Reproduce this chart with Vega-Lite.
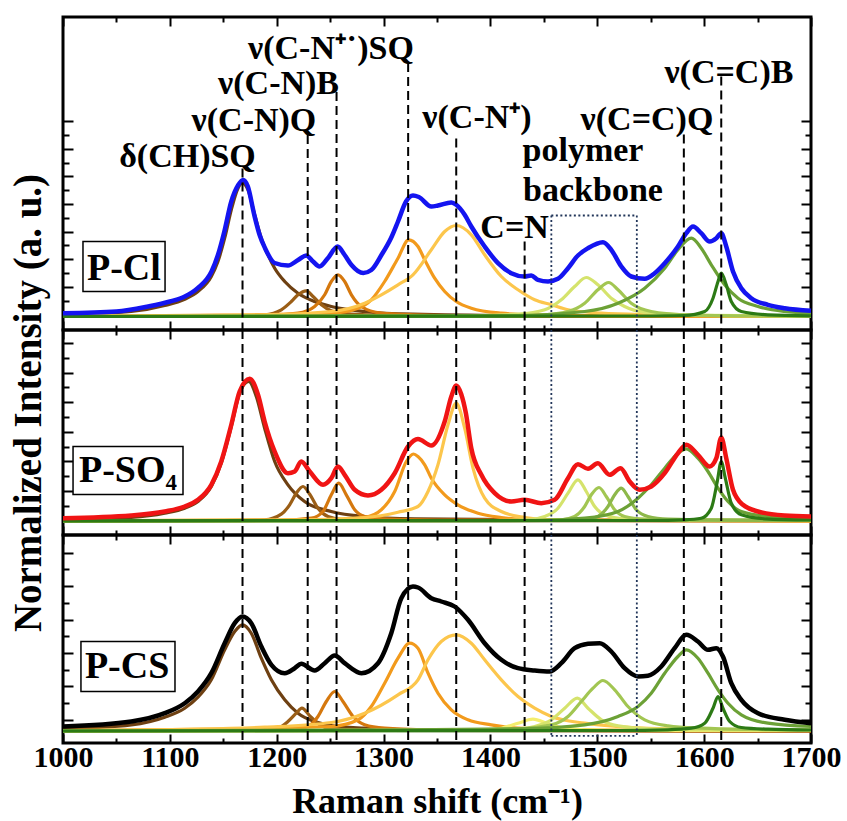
{
"$schema":"https://vega.github.io/schema/vega-lite/v6.json",
"background":"white",
"padding":{"left":7,"top":14,"right":2,"bottom":0},
"spacing":0,
"bounds":"flush",
"config":{"font":"Liberation Serif","view":{"stroke":"black","strokeWidth":3},"axis":{"domain":false,"grid":false,"labels":false,"tickColor":"black","tickWidth":2,"labelFont":"Liberation Serif","titleFont":"Liberation Serif"},"text":{"font":"Liberation Serif","fontWeight":"bold","color":"black"}},
"datasets":{
"c":[
{"p":1,"s":"dCH","x":1000,"y":15.2},{"p":1,"s":"dCH","x":1063.9,"y":18.5},{"p":1,"s":"dCH","x":1095.2,"y":24.5},{"p":1,"s":"dCH","x":1113.9,"y":30.8},{"p":1,"s":"dCH","x":1126.3,"y":38.5},{"p":1,"s":"dCH","x":1138.8,"y":53.5},{"p":1,"s":"dCH","x":1145,"y":68.5},{"p":1,"s":"dCH","x":1151.3,"y":91.8},{"p":1,"s":"dCH","x":1157.5,"y":120.2},{"p":1,"s":"dCH","x":1163.8,"y":141.8},{"p":1,"s":"dCH","x":1167.8,"y":146.8},{"p":1,"s":"dCH","x":1173.1,"y":140.2},{"p":1,"s":"dCH","x":1179.4,"y":115.2},{"p":1,"s":"dCH","x":1185.6,"y":91.8},{"p":1,"s":"dCH","x":1191.8,"y":75.2},{"p":1,"s":"dCH","x":1198.1,"y":61.8},{"p":1,"s":"dCH","x":1207.5,"y":48.5},{"p":1,"s":"dCH","x":1219.9,"y":36.8},{"p":1,"s":"dCH","x":1235.5,"y":28.5},{"p":1,"s":"dCH","x":1251.1,"y":23.5},{"p":1,"s":"dCH","x":1282.3,"y":18.5},{"p":1,"s":"dCH","x":1327.5,"y":15.8},{"p":1,"s":"dCH","x":1450,"y":14.2},{"p":1,"s":"dCH","x":1700,"y":13.6},
{"p":1,"s":"CNQ","x":1000,"y":13.5},{"p":1,"s":"CNQ","x":1150,"y":13.8},{"p":1,"s":"CNQ","x":1188.7,"y":15.2},{"p":1,"s":"CNQ","x":1204.3,"y":20.2},{"p":1,"s":"CNQ","x":1213.7,"y":28.5},{"p":1,"s":"CNQ","x":1219.9,"y":35.2},{"p":1,"s":"CNQ","x":1227.7,"y":39.2},{"p":1,"s":"CNQ","x":1234,"y":33.5},{"p":1,"s":"CNQ","x":1241.8,"y":25.2},{"p":1,"s":"CNQ","x":1251.1,"y":19.2},{"p":1,"s":"CNQ","x":1269.9,"y":15.8},{"p":1,"s":"CNQ","x":1320,"y":14},{"p":1,"s":"CNQ","x":1700,"y":13.5},
{"p":1,"s":"CNB","x":1000,"y":13.5},{"p":1,"s":"CNB","x":1180,"y":13.8},{"p":1,"s":"CNB","x":1219.9,"y":16.8},{"p":1,"s":"CNB","x":1235.5,"y":23.5},{"p":1,"s":"CNB","x":1244.9,"y":35.2},{"p":1,"s":"CNB","x":1251.1,"y":48.5},{"p":1,"s":"CNB","x":1257.3,"y":55.2},{"p":1,"s":"CNB","x":1263.6,"y":48.5},{"p":1,"s":"CNB","x":1269.9,"y":35.2},{"p":1,"s":"CNB","x":1279.2,"y":23.5},{"p":1,"s":"CNB","x":1297.9,"y":16.8},{"p":1,"s":"CNB","x":1327.5,"y":15.2},{"p":1,"s":"CNB","x":1400,"y":14},{"p":1,"s":"CNB","x":1700,"y":13.5},
{"p":1,"s":"CNs","x":1000,"y":13.8},{"p":1,"s":"CNs","x":1150,"y":14.8},{"p":1,"s":"CNs","x":1251.1,"y":16.8},{"p":1,"s":"CNs","x":1276.1,"y":21.8},{"p":1,"s":"CNs","x":1288.5,"y":30.2},{"p":1,"s":"CNs","x":1301,"y":48.5},{"p":1,"s":"CNs","x":1313.5,"y":71.8},{"p":1,"s":"CNs","x":1323.5,"y":90.2},{"p":1,"s":"CNs","x":1332.2,"y":83.5},{"p":1,"s":"CNs","x":1338.5,"y":70.2},{"p":1,"s":"CNs","x":1347.8,"y":51.8},{"p":1,"s":"CNs","x":1357.2,"y":38.5},{"p":1,"s":"CNs","x":1368,"y":28.5},{"p":1,"s":"CNs","x":1382.1,"y":21.8},{"p":1,"s":"CNs","x":1410.2,"y":16.8},{"p":1,"s":"CNs","x":1441.4,"y":15.2},{"p":1,"s":"CNs","x":1550,"y":14},{"p":1,"s":"CNs","x":1700,"y":13.6},
{"p":1,"s":"CNp","x":1000,"y":13.8},{"p":1,"s":"CNp","x":1100,"y":14.2},{"p":1,"s":"CNp","x":1188.7,"y":15.2},{"p":1,"s":"CNp","x":1251.1,"y":18.5},{"p":1,"s":"CNp","x":1282.3,"y":26.8},{"p":1,"s":"CNp","x":1297.9,"y":35.2},{"p":1,"s":"CNp","x":1313.5,"y":45.2},{"p":1,"s":"CNp","x":1327.5,"y":55.2},{"p":1,"s":"CNp","x":1344.7,"y":80.2},{"p":1,"s":"CNp","x":1357.2,"y":98.5},{"p":1,"s":"CNp","x":1368,"y":104.5},{"p":1,"s":"CNp","x":1382.1,"y":95.2},{"p":1,"s":"CNp","x":1394.6,"y":75.2},{"p":1,"s":"CNp","x":1410.2,"y":53.5},{"p":1,"s":"CNp","x":1425.8,"y":40.2},{"p":1,"s":"CNp","x":1441.4,"y":30.2},{"p":1,"s":"CNp","x":1457,"y":25.2},{"p":1,"s":"CNp","x":1472.6,"y":20.2},{"p":1,"s":"CNp","x":1503.8,"y":16.8},{"p":1,"s":"CNp","x":1550.5,"y":15.2},{"p":1,"s":"CNp","x":1620,"y":14.2},{"p":1,"s":"CNp","x":1700,"y":13.8},
{"p":1,"s":"pa","x":1000,"y":13.5},{"p":1,"s":"pa","x":1380,"y":14.2},{"p":1,"s":"pa","x":1425.8,"y":15.8},{"p":1,"s":"pa","x":1450.8,"y":20.2},{"p":1,"s":"pa","x":1466.3,"y":30.2},{"p":1,"s":"pa","x":1478.8,"y":43.5},{"p":1,"s":"pa","x":1489.7,"y":52.5},{"p":1,"s":"pa","x":1500.6,"y":45.2},{"p":1,"s":"pa","x":1513.1,"y":31.8},{"p":1,"s":"pa","x":1525.6,"y":23.5},{"p":1,"s":"pa","x":1544.4,"y":17.8},{"p":1,"s":"pa","x":1581.8,"y":15.2},{"p":1,"s":"pa","x":1700,"y":14},
{"p":1,"s":"pb","x":1000,"y":13.5},{"p":1,"s":"pb","x":1420,"y":14},{"p":1,"s":"pb","x":1450.8,"y":15.2},{"p":1,"s":"pb","x":1472.6,"y":18.5},{"p":1,"s":"pb","x":1488.2,"y":26.8},{"p":1,"s":"pb","x":1500.6,"y":40.2},{"p":1,"s":"pb","x":1510.6,"y":47.5},{"p":1,"s":"pb","x":1519.4,"y":40.2},{"p":1,"s":"pb","x":1531.8,"y":26.8},{"p":1,"s":"pb","x":1550.5,"y":18.5},{"p":1,"s":"pb","x":1581.8,"y":15.2},{"p":1,"s":"pb","x":1650,"y":14},{"p":1,"s":"pb","x":1700,"y":13.8},
{"p":1,"s":"CCQ","x":1000,"y":13.5},{"p":1,"s":"CCQ","x":1300,"y":13.8},{"p":1,"s":"CCQ","x":1425.8,"y":14.5},{"p":1,"s":"CCQ","x":1488.2,"y":18.5},{"p":1,"s":"CCQ","x":1519.4,"y":26.8},{"p":1,"s":"CCQ","x":1544.4,"y":41.8},{"p":1,"s":"CCQ","x":1563.1,"y":61.8},{"p":1,"s":"CCQ","x":1575.5,"y":80.2},{"p":1,"s":"CCQ","x":1588,"y":91.8},{"p":1,"s":"CCQ","x":1597.3,"y":81.8},{"p":1,"s":"CCQ","x":1606.7,"y":65.2},{"p":1,"s":"CCQ","x":1619.2,"y":45.2},{"p":1,"s":"CCQ","x":1631.7,"y":31.8},{"p":1,"s":"CCQ","x":1650.4,"y":23.5},{"p":1,"s":"CCQ","x":1675.4,"y":18.5},{"p":1,"s":"CCQ","x":1700,"y":16.8},
{"p":1,"s":"CCB","x":1000,"y":13.5},{"p":1,"s":"CCB","x":1540,"y":14},{"p":1,"s":"CCB","x":1581.8,"y":14.5},{"p":1,"s":"CCB","x":1600.5,"y":18.5},{"p":1,"s":"CCB","x":1608.3,"y":31.8},{"p":1,"s":"CCB","x":1613,"y":48.5},{"p":1,"s":"CCB","x":1616,"y":56.8},{"p":1,"s":"CCB","x":1620.7,"y":45.2},{"p":1,"s":"CCB","x":1625.4,"y":28.5},{"p":1,"s":"CCB","x":1634.8,"y":18.5},{"p":1,"s":"CCB","x":1659.7,"y":15.2},{"p":1,"s":"CCB","x":1700,"y":14.2},
{"p":1,"s":"fit","x":1000,"y":16.8},{"p":1,"s":"fit","x":1050,"y":18.5},{"p":1,"s":"fit","x":1079.5,"y":23.5},{"p":1,"s":"fit","x":1100,"y":28.5},{"p":1,"s":"fit","x":1114,"y":33.5},{"p":1,"s":"fit","x":1126,"y":41.8},{"p":1,"s":"fit","x":1139,"y":58.5},{"p":1,"s":"fit","x":1145,"y":75},{"p":1,"s":"fit","x":1151,"y":98.5},{"p":1,"s":"fit","x":1157.5,"y":128.5},{"p":1,"s":"fit","x":1164,"y":145},{"p":1,"s":"fit","x":1168.5,"y":150},{"p":1,"s":"fit","x":1173,"y":143.5},{"p":1,"s":"fit","x":1179,"y":115},{"p":1,"s":"fit","x":1184,"y":95},{"p":1,"s":"fit","x":1189,"y":82},{"p":1,"s":"fit","x":1198,"y":67},{"p":1,"s":"fit","x":1210.5,"y":64.5},{"p":1,"s":"fit","x":1220,"y":70},{"p":1,"s":"fit","x":1227.7,"y":74.5},{"p":1,"s":"fit","x":1234,"y":68.5},{"p":1,"s":"fit","x":1240,"y":63.5},{"p":1,"s":"fit","x":1248,"y":72},{"p":1,"s":"fit","x":1257,"y":83.5},{"p":1,"s":"fit","x":1263.6,"y":75},{"p":1,"s":"fit","x":1270,"y":65},{"p":1,"s":"fit","x":1281,"y":57},{"p":1,"s":"fit","x":1288.5,"y":60},{"p":1,"s":"fit","x":1298,"y":75},{"p":1,"s":"fit","x":1307,"y":92},{"p":1,"s":"fit","x":1313.5,"y":108.5},{"p":1,"s":"fit","x":1321,"y":128.5},{"p":1,"s":"fit","x":1327.5,"y":134.5},{"p":1,"s":"fit","x":1333,"y":133},{"p":1,"s":"fit","x":1344.7,"y":123.5},{"p":1,"s":"fit","x":1350.9,"y":124.5},{"p":1,"s":"fit","x":1363.4,"y":127.5},{"p":1,"s":"fit","x":1368,"y":125.2},{"p":1,"s":"fit","x":1375.9,"y":115.2},{"p":1,"s":"fit","x":1382.1,"y":103.5},{"p":1,"s":"fit","x":1394.6,"y":83.5},{"p":1,"s":"fit","x":1407.1,"y":66.8},{"p":1,"s":"fit","x":1419.5,"y":56.8},{"p":1,"s":"fit","x":1432,"y":53.5},{"p":1,"s":"fit","x":1438.2,"y":54.5},{"p":1,"s":"fit","x":1444.5,"y":50.2},{"p":1,"s":"fit","x":1453.9,"y":48.5},{"p":1,"s":"fit","x":1463.2,"y":51.2},{"p":1,"s":"fit","x":1472.6,"y":61.8},{"p":1,"s":"fit","x":1481.9,"y":74.5},{"p":1,"s":"fit","x":1491.3,"y":81.8},{"p":1,"s":"fit","x":1505.3,"y":87.8},{"p":1,"s":"fit","x":1513.1,"y":80.2},{"p":1,"s":"fit","x":1522.5,"y":63.5},{"p":1,"s":"fit","x":1531.8,"y":53.5},{"p":1,"s":"fit","x":1544.4,"y":51.2},{"p":1,"s":"fit","x":1553.7,"y":56.8},{"p":1,"s":"fit","x":1563.1,"y":66.8},{"p":1,"s":"fit","x":1575.5,"y":83.5},{"p":1,"s":"fit","x":1583.3,"y":96.8},{"p":1,"s":"fit","x":1589.6,"y":103.5},{"p":1,"s":"fit","x":1597.3,"y":96.8},{"p":1,"s":"fit","x":1605.2,"y":88.5},{"p":1,"s":"fit","x":1611.4,"y":91.8},{"p":1,"s":"fit","x":1616,"y":96.8},{"p":1,"s":"fit","x":1620.7,"y":83.5},{"p":1,"s":"fit","x":1627,"y":58.5},{"p":1,"s":"fit","x":1634.8,"y":41.8},{"p":1,"s":"fit","x":1644.1,"y":31.8},{"p":1,"s":"fit","x":1659.7,"y":25.2},{"p":1,"s":"fit","x":1675.4,"y":21.8},{"p":1,"s":"fit","x":1700,"y":19.2},

{"p":2,"s":"dCH","x":1000,"y":15.2},{"p":2,"s":"dCH","x":1063.9,"y":17.5},{"p":2,"s":"dCH","x":1095.2,"y":21.8},{"p":2,"s":"dCH","x":1113.9,"y":26.8},{"p":2,"s":"dCH","x":1126.3,"y":33.5},{"p":2,"s":"dCH","x":1138.8,"y":48.5},{"p":2,"s":"dCH","x":1148.1,"y":71.8},{"p":2,"s":"dCH","x":1157.5,"y":108.5},{"p":2,"s":"dCH","x":1165.3,"y":141.8},{"p":2,"s":"dCH","x":1173.8,"y":153.5},{"p":2,"s":"dCH","x":1180.9,"y":138.5},{"p":2,"s":"dCH","x":1188.7,"y":106.8},{"p":2,"s":"dCH","x":1198.1,"y":73.5},{"p":2,"s":"dCH","x":1210.5,"y":50.2},{"p":2,"s":"dCH","x":1226.1,"y":33.5},{"p":2,"s":"dCH","x":1251.1,"y":23.5},{"p":2,"s":"dCH","x":1282.3,"y":18.5},{"p":2,"s":"dCH","x":1329.1,"y":16.2},{"p":2,"s":"dCH","x":1450,"y":15},{"p":2,"s":"dCH","x":1700,"y":14.5},
{"p":2,"s":"CNQ","x":1000,"y":14.2},{"p":2,"s":"CNQ","x":1150,"y":14.5},{"p":2,"s":"CNQ","x":1188.7,"y":15.2},{"p":2,"s":"CNQ","x":1204.3,"y":20.8},{"p":2,"s":"CNQ","x":1212.1,"y":30.2},{"p":2,"s":"CNQ","x":1218.3,"y":41.8},{"p":2,"s":"CNQ","x":1224.6,"y":48.5},{"p":2,"s":"CNQ","x":1230.9,"y":40.8},{"p":2,"s":"CNQ","x":1238.6,"y":26.8},{"p":2,"s":"CNQ","x":1248,"y":18.5},{"p":2,"s":"CNQ","x":1263.6,"y":15.2},{"p":2,"s":"CNQ","x":1320,"y":14.4},{"p":2,"s":"CNQ","x":1700,"y":14.2},
{"p":2,"s":"CNB","x":1000,"y":14.2},{"p":2,"s":"CNB","x":1200,"y":14.5},{"p":2,"s":"CNB","x":1232.4,"y":16.8},{"p":2,"s":"CNB","x":1243.3,"y":23.5},{"p":2,"s":"CNB","x":1251.1,"y":40.2},{"p":2,"s":"CNB","x":1258,"y":51.8},{"p":2,"s":"CNB","x":1265.1,"y":40.2},{"p":2,"s":"CNB","x":1273,"y":25.2},{"p":2,"s":"CNB","x":1282.3,"y":18.5},{"p":2,"s":"CNB","x":1301,"y":16.2},{"p":2,"s":"CNB","x":1350,"y":15},{"p":2,"s":"CNB","x":1700,"y":14.2},
{"p":2,"s":"CNs","x":1000,"y":14.2},{"p":2,"s":"CNs","x":1200,"y":15},{"p":2,"s":"CNs","x":1251.1,"y":15.2},{"p":2,"s":"CNs","x":1282.3,"y":17.5},{"p":2,"s":"CNs","x":1297.9,"y":25.2},{"p":2,"s":"CNs","x":1310.4,"y":43.5},{"p":2,"s":"CNs","x":1321.3,"y":73.5},{"p":2,"s":"CNs","x":1328,"y":81},{"p":2,"s":"CNs","x":1332.2,"y":78.5},{"p":2,"s":"CNs","x":1338.5,"y":70.2},{"p":2,"s":"CNs","x":1344.7,"y":56.8},{"p":2,"s":"CNs","x":1357.2,"y":40.2},{"p":2,"s":"CNs","x":1369.6,"y":30.2},{"p":2,"s":"CNs","x":1388.4,"y":21.8},{"p":2,"s":"CNs","x":1410.2,"y":17.5},{"p":2,"s":"CNs","x":1441.4,"y":15.2},{"p":2,"s":"CNs","x":1550,"y":14.5},{"p":2,"s":"CNs","x":1700,"y":14.2},
{"p":2,"s":"CNp","x":1000,"y":14.2},{"p":2,"s":"CNp","x":1150,"y":14.8},{"p":2,"s":"CNp","x":1219.9,"y":15.2},{"p":2,"s":"CNp","x":1282.3,"y":17.5},{"p":2,"s":"CNp","x":1313.5,"y":22.8},{"p":2,"s":"CNp","x":1332.2,"y":28.5},{"p":2,"s":"CNp","x":1341.6,"y":43.5},{"p":2,"s":"CNp","x":1350.9,"y":70.2},{"p":2,"s":"CNp","x":1360.3,"y":110.2},{"p":2,"s":"CNp","x":1368,"y":131.8},{"p":2,"s":"CNp","x":1375.9,"y":106.8},{"p":2,"s":"CNp","x":1383.7,"y":66.8},{"p":2,"s":"CNp","x":1394.6,"y":36.8},{"p":2,"s":"CNp","x":1410.2,"y":23.5},{"p":2,"s":"CNp","x":1432,"y":17.5},{"p":2,"s":"CNp","x":1457,"y":15.2},{"p":2,"s":"CNp","x":1550,"y":14.5},{"p":2,"s":"CNp","x":1700,"y":14.2},
{"p":2,"s":"pa","x":1000,"y":14.2},{"p":2,"s":"pa","x":1400,"y":14.5},{"p":2,"s":"pa","x":1435.2,"y":15.2},{"p":2,"s":"pa","x":1450.8,"y":18.5},{"p":2,"s":"pa","x":1463.2,"y":26.8},{"p":2,"s":"pa","x":1472.6,"y":41.8},{"p":2,"s":"pa","x":1481.9,"y":55.2},{"p":2,"s":"pa","x":1489.7,"y":43.5},{"p":2,"s":"pa","x":1497.6,"y":28.5},{"p":2,"s":"pa","x":1506.9,"y":20.2},{"p":2,"s":"pa","x":1525.6,"y":16.2},{"p":2,"s":"pa","x":1600,"y":14.8},{"p":2,"s":"pa","x":1700,"y":14.5},
{"p":2,"s":"pb","x":1000,"y":14.2},{"p":2,"s":"pb","x":1430,"y":14.5},{"p":2,"s":"pb","x":1466.3,"y":15.2},{"p":2,"s":"pb","x":1478.8,"y":18.5},{"p":2,"s":"pb","x":1488.2,"y":28.5},{"p":2,"s":"pb","x":1494.4,"y":40.2},{"p":2,"s":"pb","x":1501.6,"y":47.5},{"p":2,"s":"pb","x":1508.4,"y":38.5},{"p":2,"s":"pb","x":1516.3,"y":25.2},{"p":2,"s":"pb","x":1525.6,"y":18.5},{"p":2,"s":"pb","x":1544.4,"y":15.8},{"p":2,"s":"pb","x":1600,"y":14.8},{"p":2,"s":"pb","x":1700,"y":14.5},
{"p":2,"s":"pc","x":1000,"y":14.2},{"p":2,"s":"pc","x":1450,"y":14.5},{"p":2,"s":"pc","x":1488.2,"y":15.2},{"p":2,"s":"pc","x":1500.6,"y":18.5},{"p":2,"s":"pc","x":1510,"y":28.5},{"p":2,"s":"pc","x":1516.3,"y":40.2},{"p":2,"s":"pc","x":1522.5,"y":46.8},{"p":2,"s":"pc","x":1528.7,"y":38.5},{"p":2,"s":"pc","x":1536.5,"y":25.2},{"p":2,"s":"pc","x":1547.4,"y":18.5},{"p":2,"s":"pc","x":1566.2,"y":15.8},{"p":2,"s":"pc","x":1620,"y":14.8},{"p":2,"s":"pc","x":1700,"y":14.5},
{"p":2,"s":"CCQ","x":1000,"y":14.2},{"p":2,"s":"CCQ","x":1300,"y":14.4},{"p":2,"s":"CCQ","x":1441.4,"y":14.5},{"p":2,"s":"CCQ","x":1488.2,"y":16.8},{"p":2,"s":"CCQ","x":1519.4,"y":23.5},{"p":2,"s":"CCQ","x":1538.1,"y":36.8},{"p":2,"s":"CCQ","x":1550.5,"y":50.2},{"p":2,"s":"CCQ","x":1563.1,"y":66.8},{"p":2,"s":"CCQ","x":1575.5,"y":81.8},{"p":2,"s":"CCQ","x":1583.3,"y":86.2},{"p":2,"s":"CCQ","x":1594.2,"y":76.8},{"p":2,"s":"CCQ","x":1603.6,"y":63.5},{"p":2,"s":"CCQ","x":1613,"y":46.8},{"p":2,"s":"CCQ","x":1622.3,"y":33.5},{"p":2,"s":"CCQ","x":1634.8,"y":23.5},{"p":2,"s":"CCQ","x":1659.7,"y":18.5},{"p":2,"s":"CCQ","x":1700,"y":16.2},
{"p":2,"s":"CCB","x":1000,"y":14.2},{"p":2,"s":"CCB","x":1550,"y":14.5},{"p":2,"s":"CCB","x":1581.8,"y":15.2},{"p":2,"s":"CCB","x":1597.3,"y":16.8},{"p":2,"s":"CCB","x":1606.7,"y":26.8},{"p":2,"s":"CCB","x":1612.3,"y":53.5},{"p":2,"s":"CCB","x":1616,"y":73.5},{"p":2,"s":"CCB","x":1619.8,"y":56.8},{"p":2,"s":"CCB","x":1625.4,"y":31.8},{"p":2,"s":"CCB","x":1634.8,"y":20.2},{"p":2,"s":"CCB","x":1656.6,"y":16.2},{"p":2,"s":"CCB","x":1700,"y":15},
{"p":2,"s":"fit","x":1000,"y":16.8},{"p":2,"s":"fit","x":1063.9,"y":19.5},{"p":2,"s":"fit","x":1095.2,"y":23.5},{"p":2,"s":"fit","x":1113.9,"y":28.5},{"p":2,"s":"fit","x":1126.3,"y":35.2},{"p":2,"s":"fit","x":1138.8,"y":50.2},{"p":2,"s":"fit","x":1148.1,"y":73.5},{"p":2,"s":"fit","x":1157.5,"y":110.2},{"p":2,"s":"fit","x":1165.3,"y":143.5},{"p":2,"s":"fit","x":1174.7,"y":156.2},{"p":2,"s":"fit","x":1182.5,"y":140.2},{"p":2,"s":"fit","x":1188.7,"y":113.5},{"p":2,"s":"fit","x":1198.1,"y":83.5},{"p":2,"s":"fit","x":1210.5,"y":61.8},{"p":2,"s":"fit","x":1216.8,"y":63.5},{"p":2,"s":"fit","x":1223,"y":73.5},{"p":2,"s":"fit","x":1230.9,"y":63.5},{"p":2,"s":"fit","x":1243.3,"y":50.2},{"p":2,"s":"fit","x":1251.1,"y":56.8},{"p":2,"s":"fit","x":1257.3,"y":68.5},{"p":2,"s":"fit","x":1263.6,"y":60.2},{"p":2,"s":"fit","x":1273,"y":45.2},{"p":2,"s":"fit","x":1285.4,"y":39.5},{"p":2,"s":"fit","x":1297.9,"y":45.2},{"p":2,"s":"fit","x":1310.4,"y":61.8},{"p":2,"s":"fit","x":1322.9,"y":88.5},{"p":2,"s":"fit","x":1332.2,"y":96},{"p":2,"s":"fit","x":1344.7,"y":89.5},{"p":2,"s":"fit","x":1357.2,"y":113.5},{"p":2,"s":"fit","x":1363.4,"y":138.5},{"p":2,"s":"fit","x":1368,"y":149.5},{"p":2,"s":"fit","x":1372.7,"y":140.8},{"p":2,"s":"fit","x":1377,"y":122},{"p":2,"s":"fit","x":1382.1,"y":86.8},{"p":2,"s":"fit","x":1391.5,"y":60.2},{"p":2,"s":"fit","x":1404,"y":41.8},{"p":2,"s":"fit","x":1419.5,"y":33.5},{"p":2,"s":"fit","x":1432,"y":35.2},{"p":2,"s":"fit","x":1447.6,"y":31.8},{"p":2,"s":"fit","x":1460.1,"y":35.2},{"p":2,"s":"fit","x":1472.6,"y":56.8},{"p":2,"s":"fit","x":1481.9,"y":70.8},{"p":2,"s":"fit","x":1491.3,"y":66.2},{"p":2,"s":"fit","x":1500.6,"y":71.8},{"p":2,"s":"fit","x":1511.5,"y":60.2},{"p":2,"s":"fit","x":1521.8,"y":66.8},{"p":2,"s":"fit","x":1530.3,"y":53.5},{"p":2,"s":"fit","x":1539.7,"y":45.2},{"p":2,"s":"fit","x":1550.5,"y":48.5},{"p":2,"s":"fit","x":1563.1,"y":61.8},{"p":2,"s":"fit","x":1575.5,"y":81.8},{"p":2,"s":"fit","x":1583.3,"y":90.2},{"p":2,"s":"fit","x":1594.2,"y":80.2},{"p":2,"s":"fit","x":1605.2,"y":68.5},{"p":2,"s":"fit","x":1611.4,"y":76.8},{"p":2,"s":"fit","x":1616,"y":97.5},{"p":2,"s":"fit","x":1620.7,"y":76.8},{"p":2,"s":"fit","x":1627,"y":45.2},{"p":2,"s":"fit","x":1636.3,"y":30.2},{"p":2,"s":"fit","x":1650.4,"y":23.5},{"p":2,"s":"fit","x":1675.4,"y":19.5},{"p":2,"s":"fit","x":1700,"y":18.5},

{"p":3,"s":"dCH","x":1000,"y":14.2},{"p":3,"s":"dCH","x":1063.9,"y":18.2},{"p":3,"s":"dCH","x":1095.2,"y":25.8},{"p":3,"s":"dCH","x":1113.9,"y":34.8},{"p":3,"s":"dCH","x":1126.3,"y":45.8},{"p":3,"s":"dCH","x":1138.8,"y":63.2},{"p":3,"s":"dCH","x":1151.3,"y":93.2},{"p":3,"s":"dCH","x":1160.7,"y":111.5},{"p":3,"s":"dCH","x":1167.8,"y":118.2},{"p":3,"s":"dCH","x":1176.2,"y":109.8},{"p":3,"s":"dCH","x":1185.6,"y":84.8},{"p":3,"s":"dCH","x":1195,"y":63.2},{"p":3,"s":"dCH","x":1207.5,"y":43.2},{"p":3,"s":"dCH","x":1219.9,"y":29.8},{"p":3,"s":"dCH","x":1235.5,"y":21.5},{"p":3,"s":"dCH","x":1251.1,"y":17.5},{"p":3,"s":"dCH","x":1282.3,"y":14.8},{"p":3,"s":"dCH","x":1329.1,"y":13.2},{"p":3,"s":"dCH","x":1450,"y":12.5},{"p":3,"s":"dCH","x":1700,"y":12},
{"p":3,"s":"CNQ","x":1000,"y":12},{"p":3,"s":"CNQ","x":1150,"y":12.5},{"p":3,"s":"CNQ","x":1188.7,"y":13.2},{"p":3,"s":"CNQ","x":1201.2,"y":14.8},{"p":3,"s":"CNQ","x":1210.5,"y":21.5},{"p":3,"s":"CNQ","x":1218.3,"y":29.8},{"p":3,"s":"CNQ","x":1223.6,"y":34.8},{"p":3,"s":"CNQ","x":1230.9,"y":27.2},{"p":3,"s":"CNQ","x":1240.2,"y":18.2},{"p":3,"s":"CNQ","x":1251.1,"y":14.2},{"p":3,"s":"CNQ","x":1300,"y":12.5},{"p":3,"s":"CNQ","x":1700,"y":12},
{"p":3,"s":"CNB","x":1000,"y":12},{"p":3,"s":"CNB","x":1180,"y":12.8},{"p":3,"s":"CNB","x":1219.9,"y":14.2},{"p":3,"s":"CNB","x":1229.3,"y":16.5},{"p":3,"s":"CNB","x":1238.6,"y":26.5},{"p":3,"s":"CNB","x":1246.4,"y":41.5},{"p":3,"s":"CNB","x":1254.3,"y":51.5},{"p":3,"s":"CNB","x":1262,"y":41.5},{"p":3,"s":"CNB","x":1271.4,"y":26.5},{"p":3,"s":"CNB","x":1282.3,"y":18.2},{"p":3,"s":"CNB","x":1301,"y":14.8},{"p":3,"s":"CNB","x":1350,"y":13},{"p":3,"s":"CNB","x":1700,"y":12},
{"p":3,"s":"CNs","x":1000,"y":12.5},{"p":3,"s":"CNs","x":1150,"y":14},{"p":3,"s":"CNs","x":1251.1,"y":16.5},{"p":3,"s":"CNs","x":1276.1,"y":23.2},{"p":3,"s":"CNs","x":1288.5,"y":36.5},{"p":3,"s":"CNs","x":1301,"y":59.8},{"p":3,"s":"CNs","x":1313.5,"y":84.8},{"p":3,"s":"CNs","x":1324.4,"y":99.8},{"p":3,"s":"CNs","x":1332.2,"y":94.8},{"p":3,"s":"CNs","x":1341.6,"y":69.8},{"p":3,"s":"CNs","x":1350.9,"y":49.8},{"p":3,"s":"CNs","x":1363.4,"y":33.2},{"p":3,"s":"CNs","x":1379,"y":23.2},{"p":3,"s":"CNs","x":1400.8,"y":18.2},{"p":3,"s":"CNs","x":1425.8,"y":14.8},{"p":3,"s":"CNs","x":1500,"y":13},{"p":3,"s":"CNs","x":1700,"y":12.5},
{"p":3,"s":"CNp","x":1000,"y":12.5},{"p":3,"s":"CNp","x":1126.3,"y":13.8},{"p":3,"s":"CNp","x":1188.7,"y":15.8},{"p":3,"s":"CNp","x":1251.1,"y":20.5},{"p":3,"s":"CNp","x":1282.3,"y":29.8},{"p":3,"s":"CNp","x":1313.5,"y":48.2},{"p":3,"s":"CNp","x":1332.2,"y":63.2},{"p":3,"s":"CNp","x":1341.6,"y":83.2},{"p":3,"s":"CNp","x":1354,"y":101.5},{"p":3,"s":"CNp","x":1368,"y":108.2},{"p":3,"s":"CNp","x":1382.1,"y":99.8},{"p":3,"s":"CNp","x":1394.6,"y":83.2},{"p":3,"s":"CNp","x":1410.2,"y":63.2},{"p":3,"s":"CNp","x":1425.8,"y":46.5},{"p":3,"s":"CNp","x":1441.4,"y":34.8},{"p":3,"s":"CNp","x":1457,"y":26.5},{"p":3,"s":"CNp","x":1488.2,"y":19.8},{"p":3,"s":"CNp","x":1519.4,"y":16.5},{"p":3,"s":"CNp","x":1581.8,"y":13.8},{"p":3,"s":"CNp","x":1700,"y":13},
{"p":3,"s":"CeN","x":1000,"y":12},{"p":3,"s":"CeN","x":1350,"y":12.5},{"p":3,"s":"CeN","x":1394.6,"y":13.2},{"p":3,"s":"CeN","x":1410.2,"y":14.8},{"p":3,"s":"CeN","x":1425.8,"y":19.8},{"p":3,"s":"CeN","x":1439.8,"y":23.8},{"p":3,"s":"CeN","x":1453.9,"y":19.2},{"p":3,"s":"CeN","x":1469.5,"y":14.8},{"p":3,"s":"CeN","x":1488.2,"y":13.2},{"p":3,"s":"CeN","x":1550,"y":12.5},{"p":3,"s":"CeN","x":1700,"y":12.5},
{"p":3,"s":"pa","x":1000,"y":12},{"p":3,"s":"pa","x":1380,"y":12.8},{"p":3,"s":"pa","x":1425.8,"y":13.8},{"p":3,"s":"pa","x":1441.4,"y":16.5},{"p":3,"s":"pa","x":1457,"y":23.2},{"p":3,"s":"pa","x":1469.5,"y":34.8},{"p":3,"s":"pa","x":1481.3,"y":44.8},{"p":3,"s":"pa","x":1491.3,"y":34.8},{"p":3,"s":"pa","x":1503.8,"y":23.2},{"p":3,"s":"pa","x":1519.4,"y":17.2},{"p":3,"s":"pa","x":1550.5,"y":14.2},{"p":3,"s":"pa","x":1620,"y":13.2},{"p":3,"s":"pa","x":1700,"y":13},
{"p":3,"s":"pb","x":1000,"y":12},{"p":3,"s":"pb","x":1380,"y":13},{"p":3,"s":"pb","x":1425.8,"y":14.2},{"p":3,"s":"pb","x":1457,"y":18.2},{"p":3,"s":"pb","x":1472.6,"y":26.5},{"p":3,"s":"pb","x":1485,"y":41.5},{"p":3,"s":"pb","x":1496,"y":54.8},{"p":3,"s":"pb","x":1505.3,"y":62.5},{"p":3,"s":"pb","x":1516.3,"y":53.2},{"p":3,"s":"pb","x":1528.7,"y":36.5},{"p":3,"s":"pb","x":1544.4,"y":23.2},{"p":3,"s":"pb","x":1566.2,"y":17.2},{"p":3,"s":"pb","x":1597.3,"y":14.8},{"p":3,"s":"pb","x":1650,"y":13.5},{"p":3,"s":"pb","x":1700,"y":13},
{"p":3,"s":"CCQ","x":1000,"y":12},{"p":3,"s":"CCQ","x":1300,"y":13},{"p":3,"s":"CCQ","x":1425.8,"y":14.2},{"p":3,"s":"CCQ","x":1488.2,"y":18.2},{"p":3,"s":"CCQ","x":1519.4,"y":26.5},{"p":3,"s":"CCQ","x":1538.1,"y":36.5},{"p":3,"s":"CCQ","x":1550.5,"y":49.8},{"p":3,"s":"CCQ","x":1563.1,"y":69.8},{"p":3,"s":"CCQ","x":1575.5,"y":86.5},{"p":3,"s":"CCQ","x":1583.3,"y":93.2},{"p":3,"s":"CCQ","x":1594.2,"y":84.8},{"p":3,"s":"CCQ","x":1603.6,"y":69.8},{"p":3,"s":"CCQ","x":1613,"y":53.2},{"p":3,"s":"CCQ","x":1622.3,"y":39.8},{"p":3,"s":"CCQ","x":1634.8,"y":28.2},{"p":3,"s":"CCQ","x":1659.7,"y":19.8},{"p":3,"s":"CCQ","x":1700,"y":16.5},
{"p":3,"s":"CCB","x":1000,"y":12},{"p":3,"s":"CCB","x":1520,"y":12.5},{"p":3,"s":"CCB","x":1566.2,"y":13.2},{"p":3,"s":"CCB","x":1588,"y":14.8},{"p":3,"s":"CCB","x":1600.5,"y":19.8},{"p":3,"s":"CCB","x":1608.3,"y":34.8},{"p":3,"s":"CCB","x":1613,"y":46.5},{"p":3,"s":"CCB","x":1617.6,"y":34.8},{"p":3,"s":"CCB","x":1623.9,"y":21.5},{"p":3,"s":"CCB","x":1634.8,"y":15.5},{"p":3,"s":"CCB","x":1659.7,"y":13.8},{"p":3,"s":"CCB","x":1700,"y":13},
{"p":3,"s":"fit","x":1000,"y":16.5},{"p":3,"s":"fit","x":1063.9,"y":21.5},{"p":3,"s":"fit","x":1095.2,"y":29.8},{"p":3,"s":"fit","x":1113.9,"y":39.8},{"p":3,"s":"fit","x":1126.3,"y":51.5},{"p":3,"s":"fit","x":1138.8,"y":69.8},{"p":3,"s":"fit","x":1151.3,"y":99.8},{"p":3,"s":"fit","x":1160.7,"y":119.8},{"p":3,"s":"fit","x":1167.8,"y":126.5},{"p":3,"s":"fit","x":1176.2,"y":119.8},{"p":3,"s":"fit","x":1185.6,"y":96.5},{"p":3,"s":"fit","x":1195,"y":78.2},{"p":3,"s":"fit","x":1207.5,"y":69.8},{"p":3,"s":"fit","x":1216.8,"y":74.8},{"p":3,"s":"fit","x":1223,"y":79.2},{"p":3,"s":"fit","x":1235.5,"y":72.5},{"p":3,"s":"fit","x":1244.9,"y":79.8},{"p":3,"s":"fit","x":1254.3,"y":87.5},{"p":3,"s":"fit","x":1263.6,"y":79.8},{"p":3,"s":"fit","x":1279.2,"y":69.8},{"p":3,"s":"fit","x":1294.8,"y":79.8},{"p":3,"s":"fit","x":1307.2,"y":109.8},{"p":3,"s":"fit","x":1316.6,"y":144.8},{"p":3,"s":"fit","x":1327.5,"y":156.5},{"p":3,"s":"fit","x":1332.2,"y":155.5},{"p":3,"s":"fit","x":1344.7,"y":144.8},{"p":3,"s":"fit","x":1354,"y":141.5},{"p":3,"s":"fit","x":1366.5,"y":136.5},{"p":3,"s":"fit","x":1379,"y":123.2},{"p":3,"s":"fit","x":1394.6,"y":99.8},{"p":3,"s":"fit","x":1410.2,"y":83.2},{"p":3,"s":"fit","x":1425.8,"y":74.8},{"p":3,"s":"fit","x":1441.4,"y":72.5},{"p":3,"s":"fit","x":1455.4,"y":71.5},{"p":3,"s":"fit","x":1466.3,"y":79.8},{"p":3,"s":"fit","x":1478.8,"y":94.8},{"p":3,"s":"fit","x":1491.3,"y":99.2},{"p":3,"s":"fit","x":1502.2,"y":99.8},{"p":3,"s":"fit","x":1513.1,"y":91.5},{"p":3,"s":"fit","x":1525.6,"y":74.8},{"p":3,"s":"fit","x":1538.1,"y":66.5},{"p":3,"s":"fit","x":1547.4,"y":67.2},{"p":3,"s":"fit","x":1559.9,"y":76.5},{"p":3,"s":"fit","x":1572.4,"y":94.8},{"p":3,"s":"fit","x":1583.3,"y":108.2},{"p":3,"s":"fit","x":1594.2,"y":101.5},{"p":3,"s":"fit","x":1603.6,"y":93.2},{"p":3,"s":"fit","x":1611.4,"y":94.8},{"p":3,"s":"fit","x":1617.6,"y":86.5},{"p":3,"s":"fit","x":1625.4,"y":59.8},{"p":3,"s":"fit","x":1634.8,"y":43.2},{"p":3,"s":"fit","x":1650.4,"y":29.8},{"p":3,"s":"fit","x":1675.4,"y":23.2},{"p":3,"s":"fit","x":1700,"y":19.8}
],
"dl":[
{"p":1,"x":1168,"y":161.5,"y2":0},{"p":1,"x":1229,"y":195,"y2":0},{"p":1,"x":1256,"y":238,"y2":0},{"p":1,"x":1323,"y":267,"y2":0},{"p":1,"x":1368,"y":191.5,"y2":0},{"p":1,"x":1432,"y":88.5,"y2":0},{"p":1,"x":1581,"y":195.5,"y2":0},{"p":1,"x":1616,"y":253.5,"y2":0},
{"p":2,"x":1168,"y":205,"y2":0},{"p":2,"x":1229,"y":205,"y2":0},{"p":2,"x":1256,"y":205,"y2":0},{"p":2,"x":1323,"y":205,"y2":0},{"p":2,"x":1368,"y":205,"y2":0},{"p":2,"x":1432,"y":205,"y2":0},{"p":2,"x":1581,"y":205,"y2":0},{"p":2,"x":1616,"y":205,"y2":0},
{"p":3,"x":1168,"y":208,"y2":0},{"p":3,"x":1229,"y":208,"y2":0},{"p":3,"x":1256,"y":208,"y2":0},{"p":3,"x":1323,"y":208,"y2":0},{"p":3,"x":1368,"y":208,"y2":0},{"p":3,"x":1432,"y":208,"y2":0},{"p":3,"x":1581,"y":208,"y2":0},{"p":3,"x":1616,"y":208,"y2":0}
],
"rs":[
{"p":1,"x":1457,"x2":1457,"y":114.5,"y2":0},{"p":1,"x":1537,"x2":1537,"y":114.5,"y2":0},{"p":1,"x":1457,"x2":1537,"y":114.5,"y2":114.5},
{"p":2,"x":1457,"x2":1457,"y":205,"y2":0},{"p":2,"x":1537,"x2":1537,"y":205,"y2":0},
{"p":3,"x":1457,"x2":1457,"y":208,"y2":7.2},{"p":3,"x":1537,"x2":1537,"y":208,"y2":7.2},{"p":3,"x":1457,"x2":1537,"y":7.2,"y2":7.2}
],
"bx":[
{"p":1,"x":1018.7,"x2":1095.5,"y":88.5,"y2":38.5,"t":"P-Cl","tx":1057,"ty":50.5},
{"p":2,"x":1009.4,"x2":1112.3,"y":88.5,"y2":40.5,"t":"P-SO₄","tx":1060.8,"ty":53.5},
{"p":3,"x":1016.8,"x2":1104.8,"y":101.5,"y2":51.5,"t":"P-CS","tx":1060,"ty":64.8}
],
"an":[
{"t":"δ(CH)SQ","x":1116.5,"y":162.8},
{"t":"ν(C-N)Q","x":1178.7,"y":199.2},
{"t":"ν(C-N)B","x":1201.7,"y":235.8},
{"t":"ν(C-N⁺˙)SQ","x":1250.8,"y":271.2},
{"t":"ν(C-N⁺)","x":1387.4,"y":202.5},
{"t":"C=N","x":1422.6,"y":91.8},
{"t":"polymer","x":1486.6,"y":169.2},
{"t":"backbone","x":1496,"y":129.2},
{"t":"ν(C=C)Q","x":1546.5,"y":200.2},
{"t":"ν(C=C)B","x":1623.2,"y":246.8}
]
},
"vconcat":[
{
"width":748,"height":313,
"resolve":{"axis":{"x":"independent","y":"independent"}},
"layer":[
{"data":{"name":"c"},"transform":[{"filter":"datum.p==1 && datum.s!='fit'"}],
"mark":{"type":"line","strokeWidth":3.2,"interpolate":"monotone"},
"encoding":{
"x":{"field":"x","type":"quantitative","scale":{"domain":[1000,1700],"nice":false,"zero":false},"axis":{"orient":"bottom","values":[1000,1100,1200,1300,1400,1500,1600,1700],"tickSize":-9,"title":null}},
"y":{"field":"y","type":"quantitative","scale":{"domain":[0,313],"nice":false,"zero":false},"axis":{"orient":"left","values":[43.3,70.9,98.5,126.1,153.7,181.3,208.9],"tickSize":-10,"title":null}},
"color":{"field":"s","type":"nominal","scale":{"domain":["dCH","CNQ","CNB","CNs","CNp","CeN","pa","pb","pc","CCQ","CCB"],"range":["#6e4012","#9b5e16","#d5780e","#f29a1c","#fcc64c","#f4ee6e","#d5e36c","#a2c652","#8db84a","#6ca136","#2c7a15"]},"legend":null}}},
{"data":{"name":"c"},"transform":[{"filter":"datum.p==1 && datum.s=='fit'"}],
"mark":{"type":"line","strokeWidth":4.5,"color":"#1414f0","interpolate":"monotone"},
"encoding":{
"x":{"field":"x","type":"quantitative","scale":{"domain":[1000,1700],"nice":false,"zero":false},"axis":{"orient":"top","values":[1000,1100,1200,1300,1400,1500,1600,1700],"tickSize":-9,"title":null}},
"y":{"field":"y","type":"quantitative","scale":{"domain":[0,313],"nice":false,"zero":false},"axis":{"orient":"right","values":[43.3,70.9,98.5,126.1,153.7,181.3,208.9],"tickSize":-10,"title":null}}}},
{"data":{"name":"dl"},"transform":[{"filter":"datum.p==1"}],
"mark":{"type":"rule","strokeWidth":2,"color":"black","strokeDash":[9,5]},
"encoding":{
"x":{"field":"x","type":"quantitative","scale":{"domain":[1000,1700],"nice":false,"zero":false},"axis":{"orient":"bottom","values":[1050,1150,1250,1350,1450,1550,1650],"tickSize":-5,"title":null}},
"y":{"field":"y","type":"quantitative","scale":{"domain":[0,313],"nice":false,"zero":false},"axis":{"orient":"left","values":[29.5,57.1,84.7,112.3,139.9,167.5,195.1],"tickSize":-6,"title":null}},
"y2":{"field":"y2"}}},
{"data":{"name":"rs"},"transform":[{"filter":"datum.p==1"}],
"mark":{"type":"rule","strokeWidth":1.8,"color":"#22365a","strokeDash":[2,2.5]},
"encoding":{
"x":{"field":"x","type":"quantitative","scale":{"domain":[1000,1700],"nice":false,"zero":false},"axis":{"orient":"top","values":[1050,1150,1250,1350,1450,1550,1650],"tickSize":-5,"title":null}},
"y":{"field":"y","type":"quantitative","scale":{"domain":[0,313],"nice":false,"zero":false},"axis":{"orient":"right","values":[29.5,57.1,84.7,112.3,139.9,167.5,195.1],"tickSize":-6,"title":null}},
"x2":{"field":"x2"},"y2":{"field":"y2"}}},
{"data":{"name":"bx"},"transform":[{"filter":"datum.p==1"}],
"mark":{"type":"rect","fill":"white","stroke":"black","strokeWidth":1.5},
"encoding":{"x":{"field":"x","type":"quantitative","axis":null},"x2":{"field":"x2"},"y":{"field":"y","type":"quantitative","axis":null},"y2":{"field":"y2"}}},
{"data":{"name":"bx"},"transform":[{"filter":"datum.p==1"}],
"mark":{"type":"text","font":"Liberation Serif","fontWeight":"bold","fontSize":38,"baseline":"alphabetic","align":"center"},
"encoding":{"x":{"field":"tx","type":"quantitative","axis":null},"y":{"field":"ty","type":"quantitative","axis":null},"text":{"field":"t"}}},
{"data":{"name":"an"},
"mark":{"type":"text","font":"Liberation Serif","fontWeight":"bold","fontSize":34,"baseline":"alphabetic","align":"center"},
"encoding":{"x":{"field":"x","type":"quantitative","axis":null},"y":{"field":"y","type":"quantitative","axis":null},"text":{"field":"t"}}}
]
},
{
"width":748,"height":205,
"resolve":{"axis":{"x":"independent","y":"independent"}},
"layer":[
{"data":{"name":"c"},"transform":[{"filter":"datum.p==2 && datum.s!='fit'"}],
"mark":{"type":"line","strokeWidth":3.2,"interpolate":"monotone"},
"encoding":{
"x":{"field":"x","type":"quantitative","scale":{"domain":[1000,1700],"nice":false,"zero":false},"axis":{"orient":"bottom","values":[1000,1100,1200,1300,1400,1500,1600,1700],"tickSize":-9,"title":null}},
"y":{"field":"y","type":"quantitative","scale":{"domain":[0,205],"nice":false,"zero":false},"axis":{"orient":"left","values":[44,73.6,103.2,132.8,162.4,192],"tickSize":-10,"title":"Normalized Intensity (a. u.)","titleFont":"Liberation Serif","titleFontWeight":"bold","titleFontSize":39,"titleColor":"black","titleAngle":270,"titleX":-23,"titleY":72.5,"titleAlign":"center","titleBaseline":"alphabetic"}},
"color":{"field":"s","type":"nominal","scale":{"domain":["dCH","CNQ","CNB","CNs","CNp","CeN","pa","pb","pc","CCQ","CCB"],"range":["#6e4012","#9b5e16","#d5780e","#f29a1c","#fcc64c","#f4ee6e","#d5e36c","#a2c652","#8db84a","#6ca136","#2c7a15"]},"legend":null}}},
{"data":{"name":"c"},"transform":[{"filter":"datum.p==2 && datum.s=='fit'"}],
"mark":{"type":"line","strokeWidth":4.5,"color":"#f01414","interpolate":"monotone"},
"encoding":{
"x":{"field":"x","type":"quantitative","scale":{"domain":[1000,1700],"nice":false,"zero":false},"axis":{"orient":"top","values":[1000,1100,1200,1300,1400,1500,1600,1700],"tickSize":-9,"title":null}},
"y":{"field":"y","type":"quantitative","scale":{"domain":[0,205],"nice":false,"zero":false},"axis":{"orient":"right","values":[44,73.6,103.2,132.8,162.4,192],"tickSize":-10,"title":null}}}},
{"data":{"name":"dl"},"transform":[{"filter":"datum.p==2"}],
"mark":{"type":"rule","strokeWidth":2,"color":"black","strokeDash":[9,5]},
"encoding":{
"x":{"field":"x","type":"quantitative","scale":{"domain":[1000,1700],"nice":false,"zero":false},"axis":{"orient":"bottom","values":[1050,1150,1250,1350,1450,1550,1650],"tickSize":-5,"title":null}},
"y":{"field":"y","type":"quantitative","scale":{"domain":[0,205],"nice":false,"zero":false},"axis":{"orient":"left","values":[29.2,58.8,88.4,118,147.6,177.2],"tickSize":-6,"title":null}},
"y2":{"field":"y2"}}},
{"data":{"name":"rs"},"transform":[{"filter":"datum.p==2"}],
"mark":{"type":"rule","strokeWidth":1.8,"color":"#22365a","strokeDash":[2,2.5]},
"encoding":{
"x":{"field":"x","type":"quantitative","scale":{"domain":[1000,1700],"nice":false,"zero":false},"axis":{"orient":"top","values":[1050,1150,1250,1350,1450,1550,1650],"tickSize":-5,"title":null}},
"y":{"field":"y","type":"quantitative","scale":{"domain":[0,205],"nice":false,"zero":false},"axis":{"orient":"right","values":[29.2,58.8,88.4,118,147.6,177.2],"tickSize":-6,"title":null}},
"x2":{"field":"x2"},"y2":{"field":"y2"}}},
{"data":{"name":"bx"},"transform":[{"filter":"datum.p==2"}],
"mark":{"type":"rect","fill":"white","stroke":"black","strokeWidth":1.5},
"encoding":{"x":{"field":"x","type":"quantitative","axis":null},"x2":{"field":"x2"},"y":{"field":"y","type":"quantitative","axis":null},"y2":{"field":"y2"}}},
{"data":{"name":"bx"},"transform":[{"filter":"datum.p==2"}],
"mark":{"type":"text","font":"Liberation Serif","fontWeight":"bold","fontSize":38,"baseline":"alphabetic","align":"center"},
"encoding":{"x":{"field":"tx","type":"quantitative","axis":null},"y":{"field":"ty","type":"quantitative","axis":null},"text":{"field":"t"}}}
]
},
{
"width":748,"height":208,
"resolve":{"axis":{"x":"independent","y":"independent"}},
"layer":[
{"data":{"name":"c"},"transform":[{"filter":"datum.p==3 && datum.s!='fit'"}],
"mark":{"type":"line","strokeWidth":3.2,"interpolate":"monotone"},
"encoding":{
"x":{"field":"x","type":"quantitative","scale":{"domain":[1000,1700],"nice":false,"zero":false},"axis":{"orient":"bottom","values":[1000,1100,1200,1300,1400,1500,1600,1700],"tickSize":-9,"labels":true,"format":"d","labelFont":"Liberation Serif","labelFontWeight":"bold","labelFontSize":30,"labelColor":"black","labelPadding":8,"labelFlush":false,"labelOverlap":false,"title":"Raman shift (cm⁻¹)","titleFont":"Liberation Serif","titleFontWeight":"bold","titleFontSize":36,"titleColor":"black","titleY":69,"titleBaseline":"alphabetic"}},
"y":{"field":"y","type":"quantitative","scale":{"domain":[0,208],"nice":false,"zero":false},"axis":{"orient":"left","values":[23.5,56.8,90.2,123.5,156.9,190.2],"tickSize":-10,"title":null}},
"color":{"field":"s","type":"nominal","scale":{"domain":["dCH","CNQ","CNB","CNs","CNp","CeN","pa","pb","pc","CCQ","CCB"],"range":["#6e4012","#9b5e16","#d5780e","#f29a1c","#fcc64c","#f4ee6e","#d5e36c","#a2c652","#8db84a","#6ca136","#2c7a15"]},"legend":null}}},
{"data":{"name":"c"},"transform":[{"filter":"datum.p==3 && datum.s=='fit'"}],
"mark":{"type":"line","strokeWidth":4.5,"color":"#000000","interpolate":"monotone"},
"encoding":{
"x":{"field":"x","type":"quantitative","scale":{"domain":[1000,1700],"nice":false,"zero":false},"axis":{"orient":"top","values":[1000,1100,1200,1300,1400,1500,1600,1700],"tickSize":-9,"title":null}},
"y":{"field":"y","type":"quantitative","scale":{"domain":[0,208],"nice":false,"zero":false},"axis":{"orient":"right","values":[23.5,56.8,90.2,123.5,156.9,190.2],"tickSize":-10,"title":null}}}},
{"data":{"name":"dl"},"transform":[{"filter":"datum.p==3"}],
"mark":{"type":"rule","strokeWidth":2,"color":"black","strokeDash":[9,5]},
"encoding":{
"x":{"field":"x","type":"quantitative","scale":{"domain":[1000,1700],"nice":false,"zero":false},"axis":{"orient":"bottom","values":[1050,1150,1250,1350,1450,1550,1650],"tickSize":-5,"title":null}},
"y":{"field":"y","type":"quantitative","scale":{"domain":[0,208],"nice":false,"zero":false},"axis":{"orient":"left","values":[40.2,73.5,106.9,140.2,173.5],"tickSize":-6,"title":null}},
"y2":{"field":"y2"}}},
{"data":{"name":"rs"},"transform":[{"filter":"datum.p==3"}],
"mark":{"type":"rule","strokeWidth":1.8,"color":"#22365a","strokeDash":[2,2.5]},
"encoding":{
"x":{"field":"x","type":"quantitative","scale":{"domain":[1000,1700],"nice":false,"zero":false},"axis":{"orient":"top","values":[1050,1150,1250,1350,1450,1550,1650],"tickSize":-5,"title":null}},
"y":{"field":"y","type":"quantitative","scale":{"domain":[0,208],"nice":false,"zero":false},"axis":{"orient":"right","values":[40.2,73.5,106.9,140.2,173.5],"tickSize":-6,"title":null}},
"x2":{"field":"x2"},"y2":{"field":"y2"}}},
{"data":{"name":"bx"},"transform":[{"filter":"datum.p==3"}],
"mark":{"type":"rect","fill":"white","stroke":"black","strokeWidth":1.5},
"encoding":{"x":{"field":"x","type":"quantitative","axis":null},"x2":{"field":"x2"},"y":{"field":"y","type":"quantitative","axis":null},"y2":{"field":"y2"}}},
{"data":{"name":"bx"},"transform":[{"filter":"datum.p==3"}],
"mark":{"type":"text","font":"Liberation Serif","fontWeight":"bold","fontSize":38,"baseline":"alphabetic","align":"center"},
"encoding":{"x":{"field":"tx","type":"quantitative","axis":null},"y":{"field":"ty","type":"quantitative","axis":null},"text":{"field":"t"}}}
]
}
]
}
